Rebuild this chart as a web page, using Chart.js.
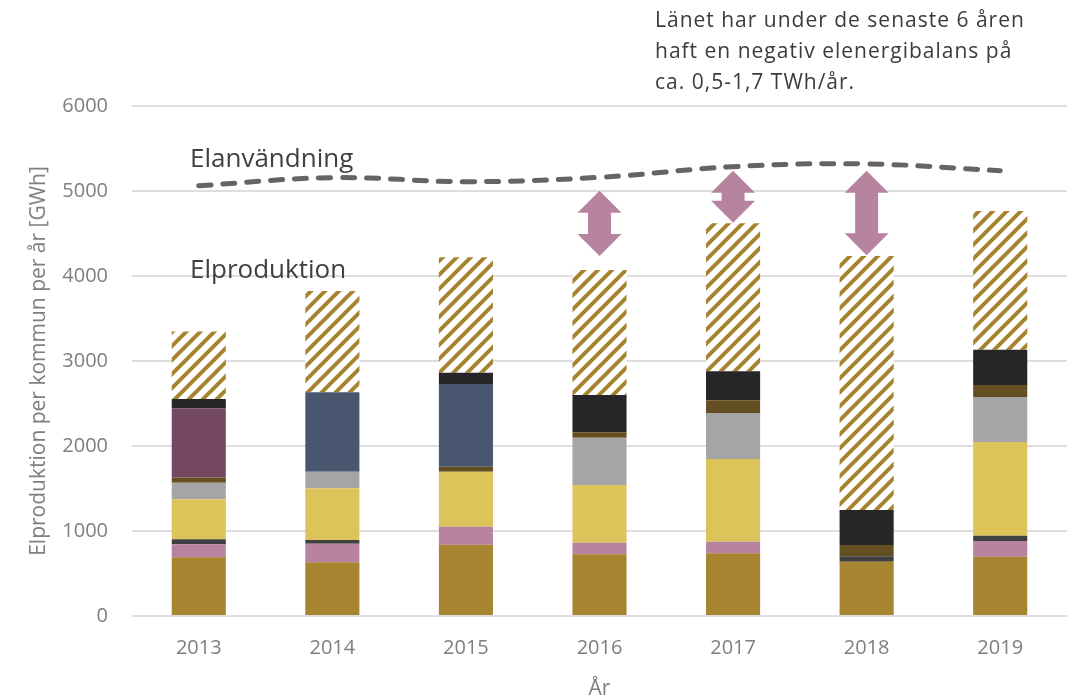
<!DOCTYPE html>
<html>
<head>
<meta charset="utf-8">
<script src="https://cdn.jsdelivr.net/npm/chart.js@4.4.1/dist/chart.umd.min.js"></script>
<style>
  html, body { margin: 0; padding: 0; background: #fff; }
  #wrap { width: 1074px; height: 698px; }
</style>
</head>
<body>
<div id="wrap"><canvas id="chart"></canvas></div>
<script>
// År
const years = ['2013', '2014', '2015', '2016', '2017', '2018', '2019'];

// Elproduktion per kraftslag, GWh (nedifrån och upp i stapeln)
const gold      = [690, 632, 839, 726, 737, 639, 698];
const pink      = [153, 219, 212, 136, 137, 0, 184];
const darkGray  = [59, 43, 0, 0, 0, 63, 63];
const yellow    = [471, 608, 647, 679, 973, 0, 1102];
const lightGray = [196, 196, 0, 557, 541, 0, 529];
const brown     = [59, 0, 58, 63, 149, 133, 142];
const purple    = [816, 0, 0, 0, 0, 0, 0];
const slate     = [0, 934, 973, 0, 0, 0, 0];
const black     = [110, 0, 133, 439, 341, 412, 415];
const hatched   = [792, 1192, 1358, 1471, 1742, 2988, 1632];

// Elanvändning, GWh
const elanvandning = [5062, 5157, 5110, 5161, 5286, 5318, 5239];

// pilar mellan produktion och användning
const arrowYears  = ['2016', '2017', '2018'];
const arrowTop    = [5004, 5239, 5239];
const arrowBottom = [4235, 4627, 4243];

const yTicks = [0, 1000, 2000, 3000, 4000, 5000, 6000];

// diagonal stripes for the top segment
function stripes(color) {
  const s = 14;
  const c = document.createElement('canvas');
  c.width = s; c.height = s;
  const g = c.getContext('2d');
  g.fillStyle = '#fff';
  g.fillRect(0, 0, s, s);
  g.strokeStyle = color;
  g.lineWidth = 4;
  g.beginPath();
  g.moveTo(-s / 2, s / 2); g.lineTo(s / 2, -s / 2);
  g.moveTo(0, s); g.lineTo(s, 0);
  g.moveTo(s / 2, s * 1.5); g.lineTo(s * 1.5, s / 2);
  g.stroke();
  return g.createPattern(c, 'repeat');
}

function bar(label, data, color) {
  return { type: 'bar', label: label, data: data, backgroundColor: color, stack: 'prod', borderWidth: 0 };
}

// text and arrows on top of the chart
const extras = {
  id: 'extras',
  afterDatasetsDraw(chart) {
    const ctx = chart.ctx;
    const x = chart.scales.x, y = chart.scales.y;
    ctx.save();
    ctx.fillStyle = '#b784a0';
    arrowYears.forEach((yr, i) => {
      const cx = x.getPixelForValue(years.indexOf(yr));
      const t = y.getPixelForValue(arrowTop[i]);
      const b = y.getPixelForValue(arrowBottom[i]);
      const hw = 22, hh = 22, sw = 11.5;
      ctx.beginPath();
      ctx.moveTo(cx, t);
      ctx.lineTo(cx + hw, t + hh);
      ctx.lineTo(cx + sw, t + hh);
      ctx.lineTo(cx + sw, b - hh);
      ctx.lineTo(cx + hw, b - hh);
      ctx.lineTo(cx, b);
      ctx.lineTo(cx - hw, b - hh);
      ctx.lineTo(cx - sw, b - hh);
      ctx.lineTo(cx - sw, t + hh);
      ctx.lineTo(cx - hw, t + hh);
      ctx.closePath();
      ctx.fill();
    });

    ctx.fillStyle = '#404040';
    ctx.textBaseline = 'alphabetic';
    ctx.textAlign = 'left';
    ctx.font = '26px "Open Sans"';
    ctx.fillText('Elanvändning', 190, 167);
    ctx.fillText('Elproduktion', 190, 278);

    ctx.fillStyle = '#3b3b3b';
    ctx.font = '21px "Open Sans"';
    ctx.letterSpacing = '1px';
    ctx.fillText('Länet har under de senaste 6 åren', 655, 27);
    ctx.fillText('haft en negativ elenergibalans på', 655, 58);
    ctx.fillText('ca. 0,5-1,7 TWh/år.', 655, 89);
    ctx.restore();
  }
};

const ctx = document.getElementById('chart');

new Chart(ctx, {
  data: {
    labels: years,
    datasets: [
      {
        type: 'line',
        label: 'Elanvändning',
        data: elanvandning,
        stack: 'use',
        borderColor: '#646464',
        borderWidth: 5,
        borderDash: [12, 12],
        borderCapStyle: 'round',
        tension: 0.4,
        pointRadius: 0,
        fill: false
      },
      bar('gold', gold, '#a68430'),
      bar('pink', pink, '#b783a0'),
      bar('darkGray', darkGray, '#404040'),
      bar('yellow', yellow, '#dcc35a'),
      bar('lightGray', lightGray, '#a5a5a5'),
      bar('brown', brown, '#634f21'),
      bar('purple', purple, '#744763'),
      bar('slate', slate, '#48566f'),
      bar('black', black, '#262628'),
      bar('hatched', hatched, stripes('#a68430'))
    ]
  },
  options: {
    responsive: true,
    maintainAspectRatio: false,
    animation: false,
    layout: { padding: { top: 106, right: 7, left: 0, bottom: 0 } },
    datasets: { bar: { barPercentage: 0.405, categoryPercentage: 1 } },
    scales: {
      x: {
        stacked: true,
        grid: { display: false },
        border: { display: false },
        ticks: { color: '#7f7f7f', font: { family: 'Open Sans', size: 20 }, padding: 12 },
        title: { display: true, text: 'År', color: '#7f7f7f', font: { family: 'Open Sans', size: 21, lineHeight: 1 }, padding: { top: 0, bottom: -2 } },
        afterFit(scale) { scale.height = 82; }
      },
      y: {
        stacked: true,
        min: 0,
        max: 6000,
        afterBuildTicks(scale) { scale.ticks = yTicks.map(v => ({ value: v })); },
        grid: { color: '#dedede', lineWidth: 2, drawTicks: false },
        border: { display: false },
        ticks: { color: '#7f7f7f', font: { family: 'Open Sans', size: 20 }, padding: 24, callback: v => String(v) },
        title: { display: true, text: 'Elproduktion per kommun per år [GWh]', color: '#7f7f7f', font: { family: 'Open Sans', size: 21 }, padding: { top: 26, bottom: 0 } },
        afterFit(scale) { scale.width = 132; }
      }
    },
    plugins: {
      legend: { display: false },
      tooltip: { enabled: false }
    }
  },
  plugins: [extras]
});
</script>
</body>
</html>
